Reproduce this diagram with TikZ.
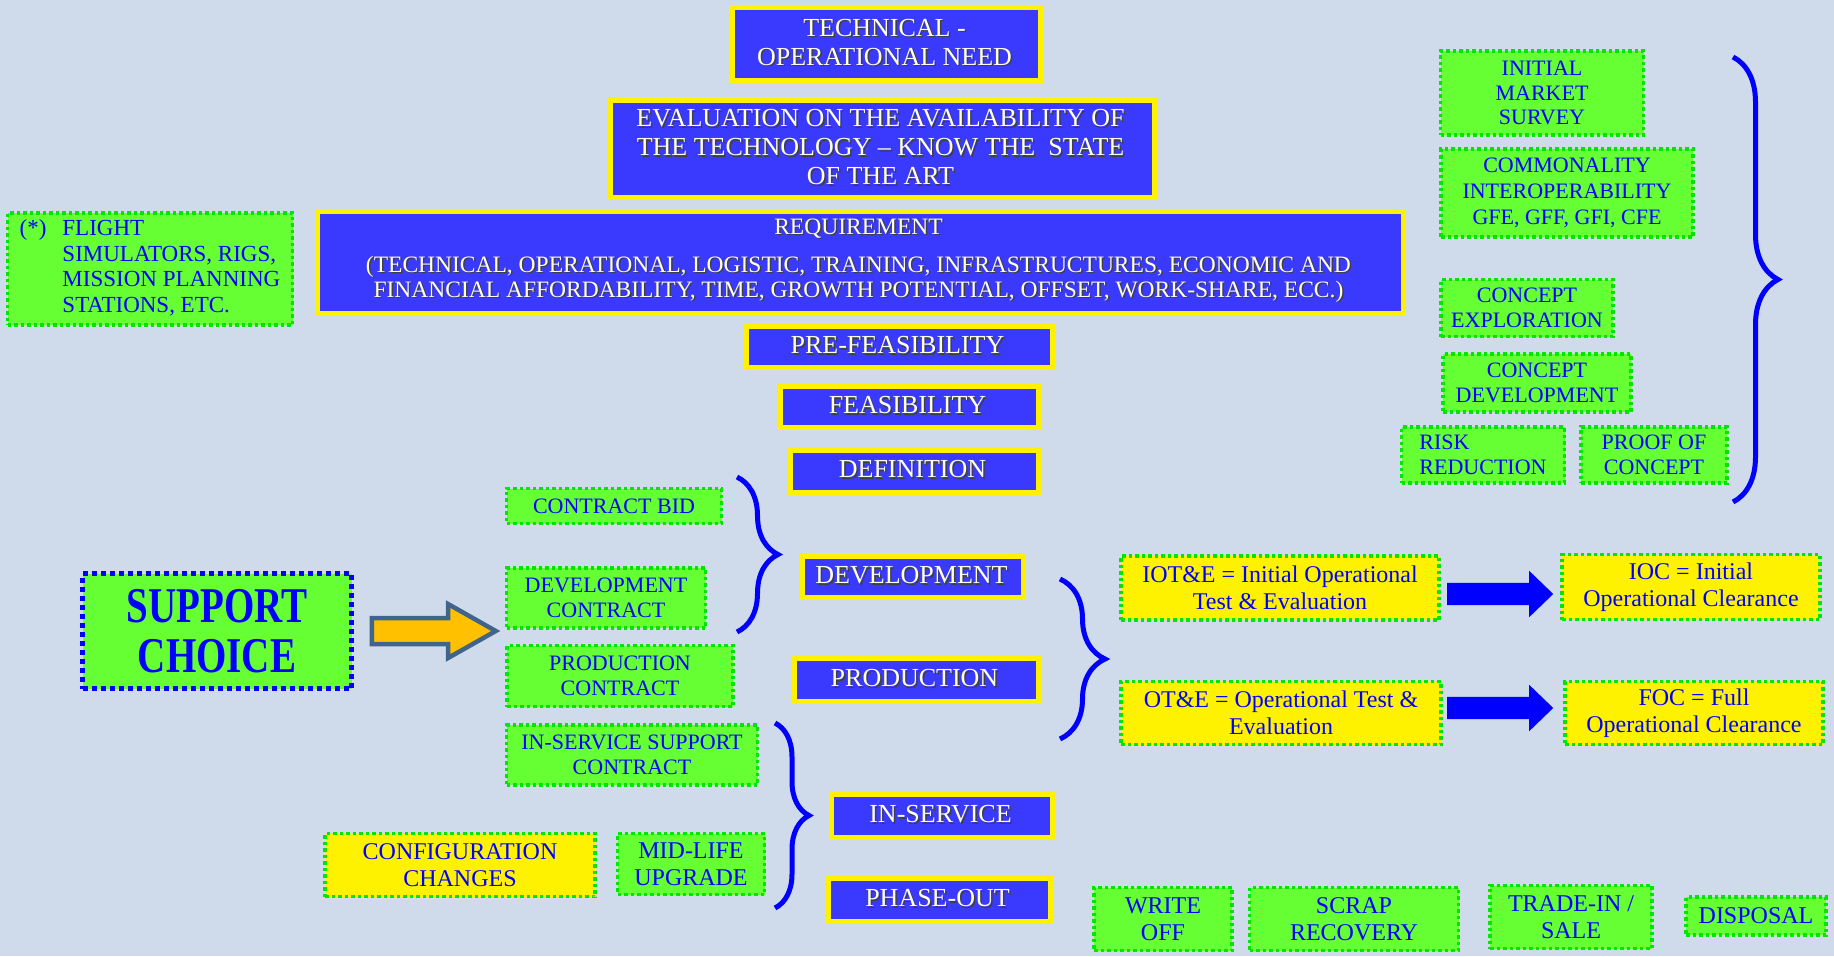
\documentclass[tikz,border=0pt]{standalone}
\usepackage{fontspec}
\setmainfont{Liberation Serif}
\newfontfamily\supportfont{Liberation Serif}[FakeStretch=0.78]
\usetikzlibrary{positioning, shapes.arrows, decorations.pathreplacing}

\definecolor{bgblue}{RGB}{207,219,234}
\definecolor{phaseblue}{RGB}{58,58,255}
\definecolor{boxgreen}{RGB}{102,255,51}
\definecolor{dotgreen}{RGB}{0,230,0}
\definecolor{arroworange}{RGB}{255,192,0}
\definecolor{arrowedge}{RGB}{65,100,140}

\tikzset{
  phase/.style={draw=yellow, fill=phaseblue, line width=5pt, text=black!75, align=center,
    inner sep=0pt, font=\fontsize{26}{29}\selectfont},
  phasetext/.style={text=white, align=center, inner sep=0pt, xshift=-1.5pt, yshift=1.5pt,
    font=\fontsize{26}{29}\selectfont},
  note/.style={draw=dotgreen, fill=boxgreen, line width=3.5pt, dash pattern=on 3.5pt off 3pt,
    text=blue, align=center, inner sep=0pt, font=\fontsize{22}{24.5}\selectfont},
  ynote/.style={note, fill=yellow},
  big/.style={font=\fontsize{24}{26.5}\selectfont},
  brc/.style={draw=blue, line width=5pt, decorate, decoration={brace, amplitude=#1}},
  brc/.default=40,
  blockarrow/.style={single arrow, fill=blue, inner sep=0pt, inner ysep=11pt, anchor=tail,
    minimum height=106pt, single arrow head extend=12pt, single arrow tip angle=88},
}

% blue phase box with shadowed white text
\newcommand{\phasebox}[6][]{%
  \node[phase, #1, minimum width=#4, minimum height=#5, label={[phasetext, #1]center:{#6}}] (#2) at (#3) {#6};}

\begin{document}
\begin{tikzpicture}[x=1pt,y=-1pt]
  \fill[bgblue] (0,0) rectangle (1834,956);
  \useasboundingbox (0,0) rectangle (1834,956);

  % Main phases
  \phasebox{need}{886,44}{308pt}{73pt}{TECHNICAL -\\OPERATIONAL NEED}
  \phasebox{eval}{882,149}{544pt}{97pt}{EVALUATION ON THE AVAILABILITY OF\\THE TECHNOLOGY – KNOW THE \ STATE\\OF THE ART}
  \phasebox[font=\fontsize{23.5}{25}\selectfont]{req}{860,262}{1086pt}{102pt}
    {REQUIREMENT\\[13pt](TECHNICAL, OPERATIONAL, LOGISTIC, TRAINING, INFRASTRUCTURES, ECONOMIC AND\\
     FINANCIAL AFFORDABILITY, TIME, GROWTH POTENTIAL, OFFSET, WORK-SHARE, ECC.)}
  \phasebox{prefeas}{899,347}{306pt}{41pt}{PRE-FEASIBILITY}
  \phasebox{feas}{909,407}{258pt}{41pt}{FEASIBILITY}
  \phasebox{def}{914,471}{248pt}{42pt}{DEFINITION}
  \phasebox{dev}{913,577}{221pt}{41pt}{DEVELOPMENT}
  \phasebox{prod}{916,680}{244pt}{43pt}{PRODUCTION}
  \phasebox{inserv}{942,816}{221pt}{43pt}{IN-SERVICE}
  \phasebox{phaseout}{939,900}{222pt}{43pt}{PHASE-OUT}

  % Footnote box
  \node[note, minimum width=285pt, minimum height=112pt, font=\fontsize{23}{25.7}\selectfont] (flight) at (150,269)
    {\begin{tabular}{@{}l@{\hspace{16pt}}l@{}}
      (*) & FLIGHT\\ & SIMULATORS, RIGS,\\ & MISSION PLANNING\\ & STATIONS, ETC.
     \end{tabular}};

  % Support choice and contracts
  \node[note, draw=blue, line width=5pt, dash pattern=on 5pt off 4pt, minimum width=269pt, minimum height=115pt,
    font=\supportfont\bfseries\fontsize{50}{50}\selectfont] (support) at (217,631) {SUPPORT\\CHOICE};
  \node[single arrow, draw=arrowedge, fill=arroworange, line width=4.5pt, inner sep=0pt, inner ysep=10.75pt,
    anchor=tail, minimum height=124pt, single arrow head extend=14pt, single arrow tip angle=59] (choice) at (369.5,631) {};
  \node[note, minimum width=215pt, minimum height=35pt] (bid) at (614,506) {CONTRACT BID};
  \node[note, minimum width=199pt, minimum height=60pt] (devc) at (606,598) {DEVELOPMENT\\CONTRACT};
  \node[note, minimum width=226pt, minimum height=61pt] (prodc) at (620,676) {PRODUCTION\\CONTRACT};
  \node[note, minimum width=251pt, minimum height=60pt] (isc) at (632,755) {IN-SERVICE SUPPORT\\CONTRACT};
  \node[ynote, big, minimum width=270pt, minimum height=63pt] (config) at (460,865) {CONFIGURATION\\CHANGES};
  \node[note, big, minimum width=147pt, minimum height=61pt] (midlife) at (691,864) {MID-LIFE\\UPGRADE};

  % Test and evaluation
  \node[ynote, big, minimum width=318pt, minimum height=64pt] (iote) at (1280,588) {IOT\&E = Initial Operational\\Test \& Evaluation};
  \node[ynote, big, minimum width=258pt, minimum height=65pt] (ioc) at (1691,587) {IOC = Initial\\Operational Clearance};
  \node[ynote, big, minimum width=320pt, minimum height=63pt] (ote) at (1281,713) {OT\&E = Operational Test \&\\Evaluation};
  \node[ynote, big, minimum width=258pt, minimum height=63pt] (foc) at (1694,713) {FOC = Full\\Operational Clearance};
  \node[blockarrow] (iocarrow) at (1447,594) {};
  \node[blockarrow] (focarrow) at (1447,708) {};

  % Early activities
  \node[note, minimum width=203pt, minimum height=84pt] (survey) at (1542,93) {INITIAL\\MARKET\\SURVEY};
  \node[note, minimum width=252pt, minimum height=88pt, font=\fontsize{22}{26}\selectfont] (common) at (1567,193)
    {COMMONALITY\\INTEROPERABILITY\\GFE, GFF, GFI, CFE};
  \node[note, minimum width=172pt, minimum height=57pt] (cexp) at (1527,308) {CONCEPT\\EXPLORATION};
  \node[note, minimum width=188pt, minimum height=58pt] (cdev) at (1537,383) {CONCEPT\\DEVELOPMENT};
  \node[note, align=left, minimum width=163pt, minimum height=56pt] (risk) at (1483,455) {RISK\\REDUCTION};
  \node[note, minimum width=146pt, minimum height=56pt] (proof) at (1654,455) {PROOF OF\\CONCEPT};

  % End of life
  \node[note, big, minimum width=138pt, minimum height=63pt] (writeoff) at (1163,919) {WRITE\\OFF};
  \node[note, big, minimum width=209pt, minimum height=63pt] (scrap) at (1354,919) {SCRAP\\RECOVERY};
  \node[note, big, minimum width=162pt, minimum height=63pt] (trade) at (1571,917) {TRADE-IN /\\SALE};
  \node[note, big, minimum width=140pt, minimum height=38pt] (disposal) at (1756,916) {DISPOSAL};

  % Braces
  \draw[brc=45] (1733,57) -- (1733,502);
  \draw[brc=41] (737,477) -- (737,632);
  \draw[brc=45] (1060,579) -- (1060,739);
  \draw[brc=34] (775,723) -- (775,908);
\end{tikzpicture}
\end{document}
